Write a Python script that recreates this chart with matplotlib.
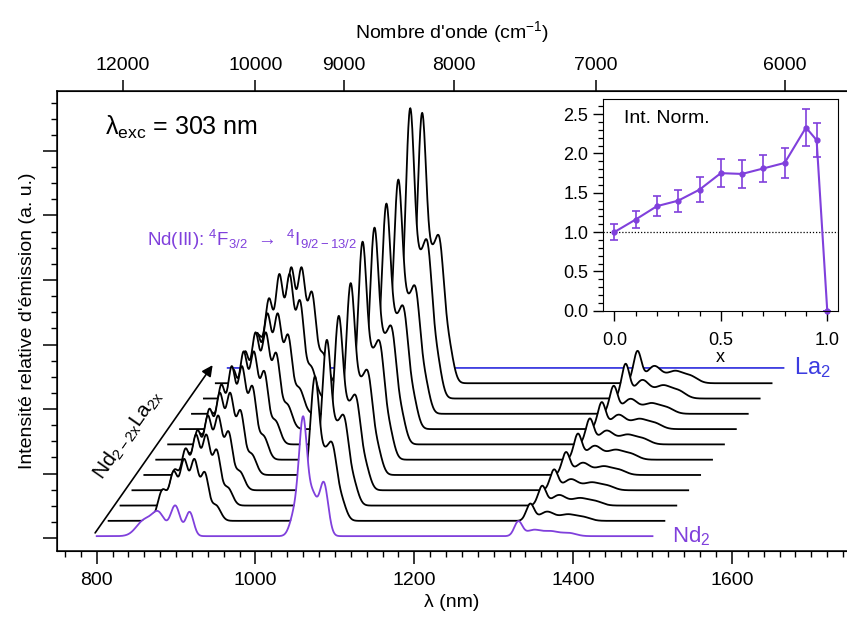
import numpy as np
import matplotlib
matplotlib.use("Agg")
import matplotlib.pyplot as plt
from matplotlib.ticker import MultipleLocator

plt.rcParams["font.family"] = ["Liberation Sans", "DejaVu Sans"]
plt.rcParams["mathtext.fontset"] = "custom"
plt.rcParams["mathtext.rm"] = "Liberation Sans"
plt.rcParams["mathtext.it"] = "Liberation Sans:italic"

# composition x and normalised integrated intensity (inset)
comp_x = [0.0, 0.1, 0.2, 0.3, 0.4, 0.5, 0.6, 0.7, 0.8, 0.9, 0.95, 1.0]
int_norm = [1.00, 1.16, 1.33, 1.40, 1.54, 1.75, 1.74, 1.81, 1.88, 2.33, 2.17, 0.0]
int_err = [0.10, 0.11, 0.13, 0.14, 0.155, 0.18, 0.175, 0.175, 0.19, 0.23, 0.22, 0.0]

# emission bands of Nd2 (centre nm, width nm, relative height)
nd2_centres = [860, 878, 899, 917, 1050, 1060, 1072, 1086, 1331, 1350, 1372, 1395]
nd2_widths = [10, 8, 6, 5, 6, 5, 5.5, 5.5, 5, 9, 10, 9]
nd2_heights = [0.13, 0.18, 0.25, 0.20, 0.20, 0.92, 0.32, 0.44, 0.12, 0.05, 0.04, 0.025]

# emission bands of the mixed Nd/La samples
mix_centres = [868, 882, 895, 908, 921, 935, 1050, 1060, 1072, 1082, 1093,
               1331, 1352, 1378, 1398]
mix_widths = [6, 5, 5, 5, 5, 6, 6, 5.5, 5.5, 5.5, 6, 5, 9, 10, 9]
mix_heights = [0.22, 0.33, 0.42, 0.42, 0.33, 0.11, 0.22, 0.95, 0.36, 0.46, 0.14,
               0.12, 0.065, 0.045, 0.025]

wavenumbers = [12000, 10000, 9000, 8000, 7000, 6000]

purple = "#8040DC"
blue = "#3C3CE0"

# waterfall layout
dx_nm = 15.0
dy = 0.237
y0 = 0.03
peak_unit = 1.86

wl = np.arange(800, 1500.25, 0.5)


def spectrum(centres, widths, heights):
    s = np.zeros_like(wl)
    for c, w, h in zip(centres, widths, heights):
        s += h * np.exp(-0.5 * ((wl - c) / w) ** 2)
    return s


nd2_shape = spectrum(nd2_centres, nd2_widths, nd2_heights)
mix_shape = spectrum(mix_centres, mix_widths, mix_heights)

fig = plt.figure(figsize=(8.47, 6.23), dpi=100)
ax = fig.add_axes([0.0673, 0.1156, 0.9327, 0.7384])

n = len(comp_x)
for i in range(n - 1, -1, -1):
    xs = wl + dx_nm * i
    base = y0 + dy * i
    if i == 0:
        ys = base + peak_unit * int_norm[i] * nd2_shape
        col = purple
    elif i == n - 1:
        ys = base + peak_unit * int_norm[i] * mix_shape
        col = blue
    else:
        ys = base + peak_unit * int_norm[i] * mix_shape
        col = "black"
    ax.fill_between(xs, base - 0.005, ys, color="white", lw=0, zorder=50 - 2 * i)
    ax.plot(xs, ys, color=col, lw=1.3, zorder=51 - 2 * i)

ax.set_xlim(750, 1745)
ax.set_ylim(-0.2, 6.93)
ax.xaxis.set_major_locator(MultipleLocator(200))
ax.xaxis.set_minor_locator(MultipleLocator(20))
ax.yaxis.set_major_locator(MultipleLocator(1))
ax.yaxis.set_minor_locator(MultipleLocator(0.25))
ax.tick_params(axis="x", which="major", direction="out", length=9, width=1.1,
               labelsize=14, pad=6)
ax.tick_params(axis="x", which="minor", direction="out", length=4.5, width=1.0)
ax.tick_params(axis="y", which="major", direction="out", length=10, width=1.1,
               labelleft=False)
ax.tick_params(axis="y", which="minor", direction="out", length=4.5, width=1.0)
ax.spines["right"].set_visible(False)
for s in ["left", "bottom", "top"]:
    ax.spines[s].set_linewidth(1.1)
ax.set_xlabel("λ (nm)", fontsize=14, labelpad=4)
ax.set_ylabel("Intensité relative d'émission (a. u.)", fontsize=14, labelpad=5)

ax_top = ax.twiny()
ax_top.set_xlim(ax.get_xlim())
ax_top.set_xticks([1e7 / w for w in wavenumbers])
ax_top.set_xticklabels([str(w) for w in wavenumbers])
ax_top.tick_params(axis="x", direction="out", length=8, width=1.1, labelsize=14, pad=4)
ax_top.spines["right"].set_visible(False)
ax_top.set_xlabel(r"Nombre d'onde (cm$^\mathregular{-1}$)", fontsize=14, labelpad=14)

ax.text(810, 6.36, r"λ$_\mathregular{exc}$ = 303 nm", fontsize=18, va="center",
        zorder=60)
ax.text(863, 4.62,
        r"Nd(III): $\mathregular{^4F_{3/2}}$  →  $\mathregular{^4I_{9/2-13/2}}$",
        fontsize=13.5, color=purple, va="center", zorder=60)
ax.annotate("", xy=(946, 2.68), xytext=(798, 0.08),
            arrowprops=dict(arrowstyle="-|>", color="black", lw=1.2,
                            mutation_scale=16, shrinkA=0, shrinkB=0), zorder=60)
ax.text(839, 1.60, r"Nd$_\mathregular{2-2x}$La$_\mathregular{2x}$", fontsize=15,
        rotation=55, ha="center", va="center", rotation_mode="anchor", zorder=60)
ax.text(1678, y0 + dy * (n - 1), r"La$_\mathregular{2}$", fontsize=17, color=blue,
        va="center", zorder=60)
ax.text(1524, y0, r"Nd$_\mathregular{2}$", fontsize=16, color=purple,
        va="center", zorder=60)

# inset
ins = fig.add_axes([0.712, 0.5013, 0.277, 0.340])
ins.axhline(1.0, color="black", lw=0.9, ls=(0, (1, 1.5)))
ins.errorbar(comp_x, int_norm, yerr=int_err, color=purple, lw=1.5, marker="o",
             ms=3.5, capsize=3, elinewidth=1.2, capthick=1.2, clip_on=False)
ins.set_xlim(-0.053, 1.049)
ins.set_ylim(0, 2.695)
ins.xaxis.set_major_locator(MultipleLocator(0.5))
ins.xaxis.set_minor_locator(MultipleLocator(0.1))
ins.yaxis.set_major_locator(MultipleLocator(0.5))
ins.yaxis.set_minor_locator(MultipleLocator(0.1))
ins.tick_params(which="major", direction="out", length=7, width=1.0, labelsize=13)
ins.tick_params(axis="x", which="major", pad=8)
ins.tick_params(which="minor", direction="out", length=3.5, width=0.9)
ins.set_xlabel("x", fontsize=13, labelpad=0)
ins.text(0.09, 0.905, "Int. Norm.", transform=ins.transAxes, fontsize=14, va="center")

fig.savefig("out.png", dpi=100)
